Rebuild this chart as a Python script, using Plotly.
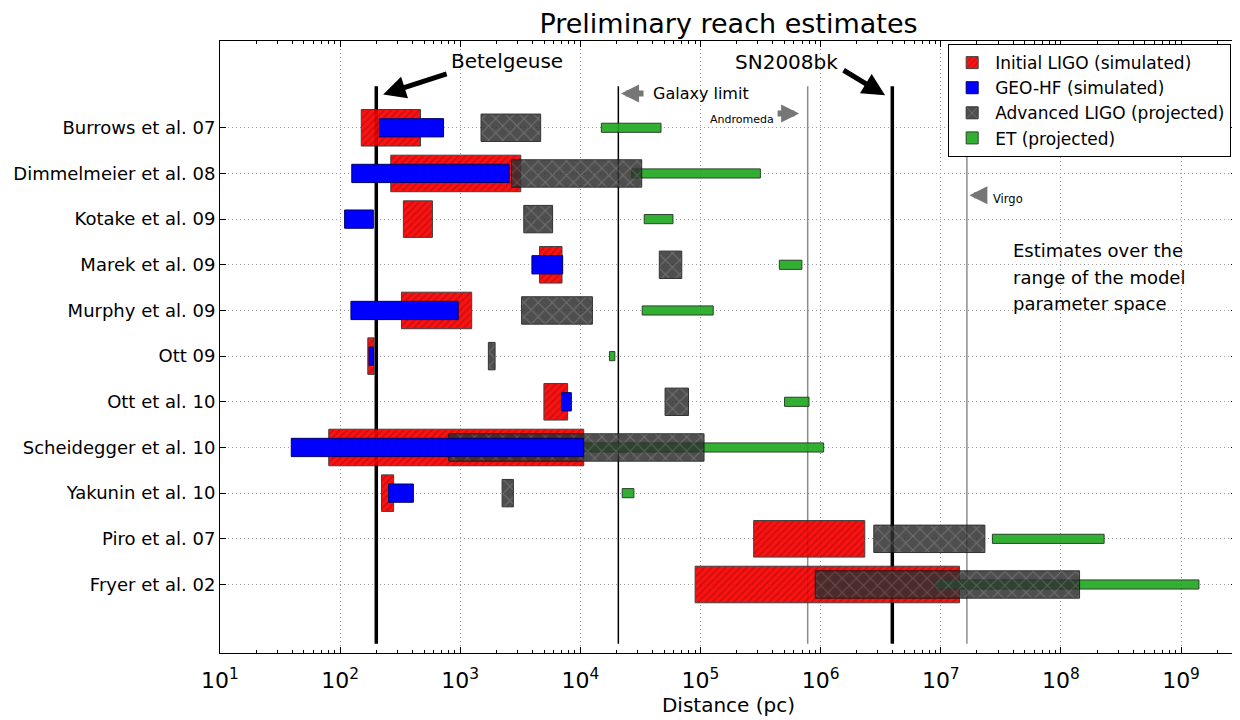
import math
import plotly.graph_objects as go

# ---------------- data ----------------
models = ["Burrows et al. 07", "Dimmelmeier et al. 08", "Kotake et al. 09",
          "Marek et al. 09", "Murphy et al. 09", "Ott 09", "Ott et al. 10",
          "Scheidegger et al. 10", "Yakunin et al. 10", "Piro et al. 07",
          "Fryer et al. 02"]

# reach ranges in pc (low, high) per detector
ligo_lo = [150, 264, 336, 4570, 324, 170, 4970, 80.4, 221, 2.77e5, 9.02e4]
ligo_hi = [467, 3190, 587, 7030, 1245, 192, 7830, 10660, 279, 2.33e6, 1.43e7]
geo_lo = [212, 125, 109, 3950, 123, 174, 6980, 39.2, 253, None, None]
geo_hi = [726, 2550, 189, 7120, 961, 189, 8410, 10660, 407, None, None]
aligo_lo = [1489, 2670, 3380, 45400, 3240, 1714, 50700, 803, 2230, 2.77e6, 9.02e5]
aligo_hi = [4670, 32400, 5870, 69800, 12600, 1950, 79400, 107000, 2770, 2.33e7, 1.43e8]
et_lo = [14950, 26800, 34000, 453000, 32700, 17460, 501000, 8140, 22300, 2.69e7, 8.98e6]
et_hi = [46900, 315000, 59000, 698000, 127600, 19360, 800000, 1.06e6, 27900, 2.29e8, 1.41e9]

landmark_names = ["Betelgeuse", "Galaxy limit", "Andromeda", "SN2008bk", "Virgo"]
landmark_pc = [200, 2.07e4, 7.8e5, 3.95e6, 1.65e7]

xtick_vals = [1e1, 1e2, 1e3, 1e4, 1e5, 1e6, 1e7, 1e8, 1e9]
xtick_text = ["10<sup>1</sup>", "10<sup>2</sup>", "10<sup>3</sup>", "10<sup>4</sup>",
              "10<sup>5</sup>", "10<sup>6</sup>", "10<sup>7</sup>", "10<sup>8</sup>",
              "10<sup>9</sup>"]

# ---------------- figure ----------------
n = len(models)
ypos = list(range(n, 0, -1))


def bar_trace(name, lo, hi, width, color, pattern, line_color, opacity, rank):
    idx = [i for i in range(n) if lo[i] is not None]
    return go.Bar(
        orientation="h",
        y=[ypos[i] for i in idx],
        base=[lo[i] for i in idx],
        x=[hi[i] - lo[i] for i in idx],
        width=width,
        name=name,
        legendrank=rank,
        legendgroup=name,
        opacity=opacity,
        marker=dict(color=color, pattern=pattern,
                    line=dict(color=line_color, width=1)),
        hoverinfo="skip",
    )


fig = go.Figure()
fig.add_trace(bar_trace("Initial LIGO (simulated)", ligo_lo, ligo_hi, 0.8, "#ff0000",
                        dict(shape="/", fgcolor="#8c0000", size=5, solidity=0.35),
                        "#333333", 0.93, 1))
fig.add_trace(bar_trace("ET (projected)", et_lo, et_hi, 0.2, "#1ea81e",
                        None, "#123012", 0.9, 4))
fig.add_trace(bar_trace("Advanced LIGO (projected)", aligo_lo, aligo_hi, 0.6, "#303030",
                        dict(shape="x", fgcolor="#7e7e7e", size=10, solidity=0.2),
                        "#111111", 0.85, 3))
fig.add_trace(bar_trace("GEO-HF (simulated)", geo_lo, geo_hi, 0.4, "#0000ff",
                        None, "#000066", 1.0, 2))

line_w = [3.5, 1.5, 1.5, 3.5, 1.5]
line_c = ["black", "black", "#8c8c8c", "black", "#8c8c8c"]
for pc, w, c in zip(landmark_pc, line_w, line_c):
    fig.add_shape(type="line", xref="x", yref="y", x0=pc, x1=pc, y0=-0.3, y1=11.91,
                  line=dict(color=c, width=w), layer="between")

L = math.log10
ann = []
# Betelgeuse
ann.append(dict(x=L(228), y=11.73, ax=65, ay=-21, text="", showarrow=True,
                arrowhead=2, arrowsize=0.9, arrowwidth=5, arrowcolor="black"))
ann.append(dict(x=L(2443), y=12.46, text="Betelgeuse", showarrow=False,
                font=dict(size=20), xanchor="center", yanchor="middle"))
# SN2008bk
ann.append(dict(x=L(3.44e6), y=11.71, ax=-43, ay=-26, text="", showarrow=True,
                arrowhead=2, arrowsize=0.9, arrowwidth=5, arrowcolor="black"))
ann.append(dict(x=L(5.21e5), y=12.44, text="SN2008bk", showarrow=False,
                font=dict(size=20), xanchor="center", yanchor="middle"))
# Galaxy limit
ann.append(dict(x=L(2.18e4), y=11.75, ax=24, ay=0, text="", showarrow=True,
                arrowhead=2, arrowsize=0.6, arrowwidth=6, arrowcolor="#767676"))
ann.append(dict(x=L(3.86e4), y=11.76, text="Galaxy limit", showarrow=False,
                font=dict(size=16), xanchor="left", yanchor="middle"))
# Andromeda
ann.append(dict(x=L(6.62e5), y=11.31, ax=-23, ay=0, text="", showarrow=True,
                arrowhead=2, arrowsize=0.6, arrowwidth=6, arrowcolor="#767676"))
ann.append(dict(x=L(4.24e5), y=11.18, text="Andromeda", showarrow=False,
                font=dict(size=11), xanchor="right", yanchor="middle"))
# Virgo
ann.append(dict(x=L(1.73e7), y=9.52, ax=19, ay=0, text="", showarrow=True,
                arrowhead=2, arrowsize=0.6, arrowwidth=6, arrowcolor="#767676"))
ann.append(dict(x=L(2.61e7), y=9.43, text="Virgo", showarrow=False,
                font=dict(size=11.5), xanchor="left", yanchor="middle"))
# text block
for t, yy in zip(["Estimates over the", "range of the model", "parameter space"],
                 [8.318, 7.711, 7.15]):
    ann.append(dict(x=L(3.85e7), y=yy, text=t, showarrow=False,
                    font=dict(size=18), xanchor="left", yanchor="middle"))
for a in ann:
    a.setdefault("xref", "x")
    a.setdefault("yref", "y")
    if a.get("showarrow"):
        a["axref"] = "pixel"
        a["ayref"] = "pixel"
        a["standoff"] = 0
fig.update_layout(annotations=ann)

minor_vals = [m * 10 ** k for k in range(1, 10) for m in range(2, 10)]

grid_dash = "1px,3px"
fig.update_layout(
    width=1232, height=712,
    margin=dict(l=212, r=3, t=33, b=67, autoexpand=False),
    plot_bgcolor="white", paper_bgcolor="white",
    barmode="overlay",
    font=dict(family="DejaVu Sans", color="black"),
    title=dict(text="Preliminary reach estimates", x=0.5, xref="paper",
               y=1 - 15.5 / 712, yanchor="middle", xanchor="center",
               font=dict(size=27)),
    legend=dict(x=0.716, y=0.995, xanchor="left", yanchor="top",
                bgcolor="white", bordercolor="black", borderwidth=1,
                font=dict(size=17), tracegroupgap=0, itemwidth=36),
    xaxis=dict(type="log", range=[1, 9.466], tickmode="array",
               tickvals=xtick_vals, ticktext=xtick_text, automargin=False,
               ticks="inside", ticklen=6, tickcolor="black", ticklabelstandoff=8,
               showline=True, linecolor="black", linewidth=1, mirror="ticks",
               showgrid=True, gridcolor="#9a9a9a", griddash=grid_dash, gridwidth=1,
               tickfont=dict(size=22),
               title=dict(text="Distance (pc)", font=dict(size=20), standoff=2),
               minor=dict(tickmode="array", tickvals=minor_vals, ticks="inside",
                          ticklen=3, tickcolor="black", showgrid=False),
               zeroline=False),
    yaxis=dict(range=[-0.5, 12.9], tickmode="array", tickvals=ypos, ticktext=models,
               automargin=False,
               ticks="inside", ticklen=6, tickcolor="black",
               showline=True, linecolor="black", linewidth=1, mirror="ticks",
               showgrid=True, gridcolor="#9a9a9a", griddash=grid_dash, gridwidth=1,
               tickfont=dict(size=18), zeroline=False),
)

fig.write_html("out.html")
